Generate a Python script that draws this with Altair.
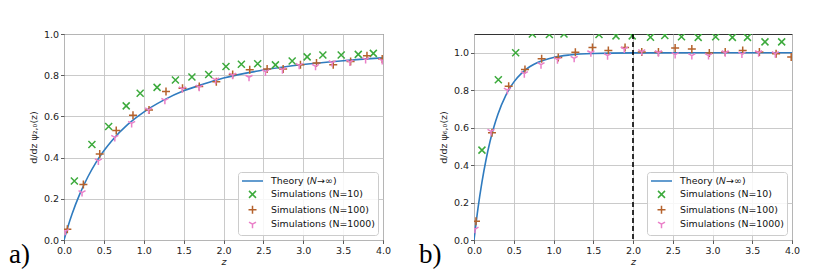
import altair as alt
import pandas as pd

SERIES = ["Theory (𝑁→∞)", "Simulations (N=10)", "Simulations (N=100)", "Simulations (N=1000)"]
COLORS = ["#2f7bbf", "#3caa3c", "#b5622c", "#ea7fc8"]
SHAPES = [
    "M-2.1,0L2.1,0",
    "M-0.7,-0.7L0.7,0.7M-0.7,0.7L0.7,-0.7",
    "M-0.8,0L0.8,0M0,-0.8L0,0.8",
    "M0,0L0,0.8M0,0L-0.7,-0.4M0,0L0.7,-0.4",
]

# ---------- panel a) ----------
a_theory_z = [0, 0.05, 0.1, 0.2, 0.3, 0.4, 0.5, 0.6, 0.8, 1.0, 1.25, 1.5, 1.75, 2.0, 2.5, 3.0, 3.5, 4.0]
a_theory_v = [0, 0.066, 0.125, 0.225, 0.307, 0.376, 0.433, 0.482, 0.561, 0.621, 0.679, 0.724, 0.757, 0.786, 0.825, 0.852, 0.870, 0.884]

a_n10_z = [0.13, 0.35, 0.56, 0.78, 0.955, 1.167, 1.397, 1.604, 1.814, 2.031, 2.224, 2.429, 2.651, 2.861, 3.049, 3.246, 3.476, 3.690, 3.879]
a_n10_v = [0.286, 0.464, 0.551, 0.651, 0.712, 0.741, 0.777, 0.791, 0.803, 0.842, 0.853, 0.856, 0.850, 0.869, 0.889, 0.898, 0.898, 0.901, 0.906]

a_n100_z = [0.042, 0.243, 0.448, 0.655, 0.865, 1.066, 1.279, 1.486, 1.696, 1.910, 2.115, 2.329, 2.547, 2.748, 2.965, 3.166, 3.376, 3.594, 3.799, 3.990]
a_n100_v = [0.052, 0.270, 0.418, 0.532, 0.605, 0.631, 0.721, 0.737, 0.745, 0.768, 0.803, 0.826, 0.830, 0.830, 0.851, 0.859, 0.851, 0.866, 0.895, 0.879]

a_n1000_z = [0.016, 0.226, 0.431, 0.637, 0.848, 1.061, 1.265, 1.484, 1.696, 1.901, 2.115, 2.320, 2.526, 2.739, 2.949, 3.154, 3.363, 3.585, 3.782, 3.990]
a_n1000_v = [0.042, 0.230, 0.384, 0.498, 0.566, 0.632, 0.678, 0.734, 0.742, 0.777, 0.800, 0.790, 0.816, 0.827, 0.848, 0.843, 0.861, 0.864, 0.876, 0.871]

# ---------- panel b) ----------
b_theory_z = [0, 0.05, 0.1, 0.15, 0.2, 0.25, 0.3, 0.4, 0.5, 0.6, 0.7, 0.8, 1.0, 1.2, 1.5, 2.0, 3.0, 4.0]
b_theory_v = [0, 0.169, 0.309, 0.426, 0.523, 0.603, 0.670, 0.772, 0.843, 0.891, 0.925, 0.948, 0.975, 0.988, 0.996, 0.999, 1.0, 1.0]

b_n10_z = [0.10, 0.306, 0.524, 0.734, 0.948, 1.132, 1.35, 1.572, 1.786, 1.99, 2.22, 2.40, 2.61, 2.82, 3.04, 3.25, 3.44, 3.66, 3.87]
b_n10_v = [0.48, 0.856, 1.0, 1.10, 1.097, 1.10, 1.13, 1.097, 1.09, 1.09, 1.083, 1.092, 1.085, 1.082, 1.085, 1.082, 1.082, 1.058, 1.058]

b_n100_z = [0.025, 0.226, 0.436, 0.641, 0.851, 1.06, 1.275, 1.49, 1.69, 1.90, 2.11, 2.32, 2.53, 2.74, 2.96, 3.16, 3.38, 3.59, 3.80, 3.99]
b_n100_v = [0.10, 0.573, 0.821, 0.910, 0.968, 0.975, 1.002, 1.028, 1.012, 1.028, 1.004, 1.004, 1.025, 1.020, 0.998, 1.004, 1.012, 1.004, 0.995, 0.977]

b_n1000_z = [0.013, 0.214, 0.42, 0.633, 0.843, 1.05, 1.26, 1.47, 1.68, 1.89, 2.11, 2.32, 2.53, 2.74, 2.95, 3.16, 3.37, 3.58, 3.79]
b_n1000_v = [0.058, 0.58, 0.80, 0.888, 0.936, 0.963, 0.97, 1.0, 0.984, 1.02, 1.006, 1.0, 0.99, 0.985, 0.985, 1.0, 0.993, 1.0, 0.995]

X_TICKS = [0, 0.5, 1.0, 1.5, 2.0, 2.5, 3.0, 3.5, 4.0]
Y_TICKS = [0, 0.2, 0.4, 0.6, 0.8, 1.0]


def panel(tz, tv, sims, ymax, ytitle, tag, dashed):
    theory = pd.DataFrame({"z": tz, "v": tv, "series": SERIES[0]})
    frames = []
    for name, (zs, vs) in zip(SERIES[1:], sims):
        frames.append(pd.DataFrame({"z": zs, "v": vs, "series": name}))
    pts = pd.concat(frames, ignore_index=True)

    x = alt.X("z:Q", scale=alt.Scale(domain=[0, 4], nice=False, zero=False),
              axis=alt.Axis(values=X_TICKS, format=".1f", title="z", titleFontStyle="italic",
                            titlePadding=1, labelFlush=False))
    y = alt.Y("v:Q", scale=alt.Scale(domain=[0, ymax], nice=False),
              axis=alt.Axis(values=Y_TICKS, format=".1f", title=ytitle, titlePadding=5,
                            labelFlush=False))
    color = alt.Color("series:N", scale=alt.Scale(domain=SERIES, range=COLORS), title=None)
    shape = alt.Shape("series:N", scale=alt.Scale(domain=SERIES, range=SHAPES), title=None)

    line = alt.Chart(theory).mark_line(strokeWidth=1.6, clip=True, interpolate="monotone").encode(
        x=x, y=y, color=color)
    points = alt.Chart(pts).mark_point(filled=False, size=100, strokeWidth=1.5, clip=True, opacity=1).encode(
        x=x, y=y, color=color, shape=shape)
    label = alt.Chart(pd.DataFrame({"t": [tag]})).mark_text(
        align="left", baseline="alphabetic", font="Liberation Serif", fontSize=27, color="black"
    ).encode(text="t:N", x=alt.value(-55), y=alt.value(229))
    layers = [line, points]
    if dashed is not None:
        rule = alt.Chart(pd.DataFrame({"z": [dashed]})).mark_rule(
            color="black", strokeDash=[5, 3], strokeWidth=1.6).encode(x=x)
        layers.append(rule)
    layers.append(label)
    return alt.layer(*layers)


left = panel(a_theory_z, a_theory_v,
             [(a_n10_z, a_n10_v), (a_n100_z, a_n100_v), (a_n1000_z, a_n1000_v)],
             1.0, "d/dz ψ₂,₀(z)", "a)", None).properties(width=319, height=206)
right = panel(b_theory_z, b_theory_v,
              [(b_n10_z, b_n10_v), (b_n100_z, b_n100_v), (b_n1000_z, b_n1000_v)],
              1.1, "d/dz ψ₆,₀(z)", "b)", 2.0).properties(width=318, height=206)

chart = alt.hconcat(left, right, spacing=91, bounds="flush").resolve_scale(
    color="independent", shape="independent", x="independent", y="independent"
).resolve_legend(color="independent", shape="independent").properties(
    padding={"left": 0, "top": 20, "right": 0, "bottom": 0}
).configure_axis(
    labelFont="DejaVu Sans", labelFontSize=9.5, labelColor="#222",
    titleFont="DejaVu Sans", titleFontSize=9.5, titleFontWeight="normal", titleColor="#222",
    gridColor="#c4c4c4", gridWidth=0.9, tickColor="#333", tickSize=3.5, tickWidth=0.8,
    domain=False, labelPadding=2
).configure_view(stroke="#333", strokeWidth=1).configure_legend(
    orient="bottom-right", offset=5, padding=3, strokeColor="#cccccc", cornerRadius=3,
    fillColor="rgba(255,255,255,0.85)", labelFont="DejaVu Sans", labelFontSize=9.4,
    labelColor="#111", symbolSize=100, symbolStrokeWidth=1.5, rowPadding=1.4,
    labelOffset=12.5, symbolOffset=5.5
)

chart.save("out.html", embed_options={"renderer": "svg", "actions": False})
